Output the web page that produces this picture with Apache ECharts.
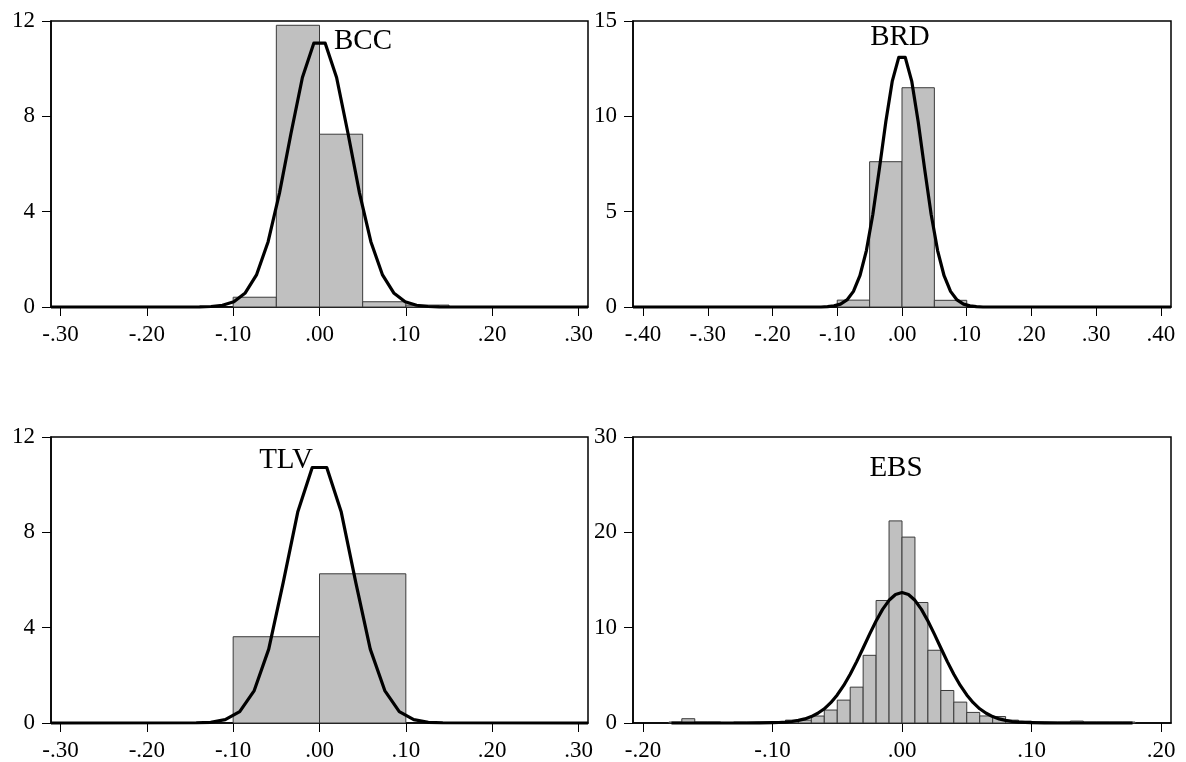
<!DOCTYPE html>
<html>
<head>
<meta charset="utf-8">
<script src="https://cdn.jsdelivr.net/npm/echarts@6/dist/echarts.min.js"></script>
<style>
html,body{margin:0;padding:0;background:#fff;}
#chart{width:1186px;height:762px;}
</style>
</head>
<body>
<div id="chart"></div>
<script>
// ---------- data ----------
const panelNames = ['BCC', 'BRD', 'TLV', 'EBS'];

// histogram bin edges and heights
const bccEdges = [-0.10, -0.05, 0.00, 0.05, 0.10, 0.15];
const bccHeights = [0.41, 11.82, 7.25, 0.22, 0.08];

const brdEdges = [-0.10, -0.05, 0.00, 0.05, 0.10];
const brdHeights = [0.36, 7.62, 11.50, 0.35];

const tlvEdges = [-0.10, 0.00, 0.10];
const tlvHeights = [3.62, 6.26];

const ebsEdges = [-0.18,-0.17,-0.16,-0.15,-0.14,-0.13,-0.12,-0.11,-0.10,-0.09,-0.08,-0.07,-0.06,-0.05,-0.04,-0.03,-0.02,-0.01,
                  0.00,0.01,0.02,0.03,0.04,0.05,0.06,0.07,0.08,0.09,0.10,0.11,0.12,0.13,0.14,0.15,0.16,0.17,0.18];
const ebsHeights = [0.1,0.45,0.1,0.1,0.0,0.1,0.1,0.1,0.1,0.3,0.3,0.73,1.36,2.40,3.76,7.10,12.85,21.2,
                    19.5,12.64,7.63,3.41,2.19,1.11,0.74,0.68,0.3,0.2,0.1,0.1,0.1,0.2,0.1,0.1,0.1,0.1];

// normal density curves
const bccCurveX = [-0.311,-0.152,-0.1389,-0.1257,-0.1124,-0.0992,-0.086,-0.0728,-0.0595,-0.0463,-0.0331,-0.0198,-0.0066,
                   0.0066,0.0198,0.0331,0.0463,0.0595,0.0728,0.086,0.0992,0.1124,0.1257,0.1389,0.152,0.311];
const bccCurveY = [0,0.001,0.005,0.021,0.073,0.222,0.589,1.36,2.74,4.79,7.27,9.63,11.07,
                   11.07,9.63,7.27,4.79,2.74,1.36,0.589,0.222,0.073,0.021,0.005,0.001,0];

const brdCurveX = [-0.4155,-0.125,-0.115,-0.105,-0.095,-0.085,-0.075,-0.065,-0.055,-0.045,-0.035,-0.025,-0.015,-0.005,
                   0.005,0.015,0.025,0.035,0.045,0.055,0.065,0.075,0.085,0.095,0.105,0.115,0.125,0.4155];
const brdCurveY = [0,0,0.02,0.06,0.15,0.37,0.82,1.64,2.96,4.86,7.23,9.72,11.85,13.09,
                   13.09,11.85,9.72,7.23,4.86,2.96,1.64,0.82,0.37,0.15,0.06,0.02,0,0];

const tlvCurveX = [-0.311,-0.1428,-0.126,-0.1092,-0.0924,-0.0756,-0.0588,-0.042,-0.0252,-0.0084,
                   0.0084,0.0252,0.042,0.0588,0.0756,0.0924,0.1092,0.126,0.1428,0.311];
const tlvCurveY = [0,0.01,0.03,0.14,0.48,1.36,3.10,5.90,8.85,10.72,
                   10.72,8.85,5.90,3.10,1.36,0.48,0.14,0.03,0.01,0];

const ebsCurveX = [-0.178,-0.12,-0.11,-0.10,-0.095,-0.09,-0.085,-0.08,-0.075,-0.07,-0.065,-0.06,-0.055,-0.05,-0.045,-0.04,-0.035,-0.03,-0.025,-0.02,-0.015,-0.01,-0.005,
                   0,0.005,0.01,0.015,0.02,0.025,0.03,0.035,0.04,0.045,0.05,0.055,0.06,0.065,0.07,0.075,0.08,0.085,0.09,0.095,0.10,0.11,0.12,0.178];
const ebsCurveY = [0,0,0.01,0.03,0.05,0.09,0.16,0.27,0.43,0.67,1.02,1.49,2.13,2.94,3.94,5.11,6.44,7.87,9.32,10.70,11.92,12.87,13.48,
                   13.69,13.48,12.87,11.92,10.70,9.32,7.87,6.44,5.11,3.94,2.94,2.13,1.49,1.02,0.67,0.43,0.27,0.16,0.09,0.05,0.03,0.01,0,0];

// axis tick values
const xTicks30 = [-0.30,-0.20,-0.10,0.00,0.10,0.20,0.30];
const xTicks40 = [-0.40,-0.30,-0.20,-0.10,0.00,0.10,0.20,0.30,0.40];
const xTicks20 = [-0.20,-0.10,0.00,0.10,0.20];
const yMaxes = [12, 15, 12, 30];
const yIntervals = [4, 5, 4, 10];
const xMins = [-0.311, -0.4155, -0.311, -0.2077];
const xMaxs = [0.311, 0.4155, 0.311, 0.2077];

// ---------- chart ----------
const FONT = '"Liberation Serif", "DejaVu Serif", serif';
const grids = [
  {left: 51, top: 21, width: 537, height: 286},
  {left: 633, top: 21, width: 538, height: 286},
  {left: 51, top: 437, width: 537, height: 286},
  {left: 633, top: 437, width: 538, height: 286}
];
const titlePos = [[363, 41], [900, 37], [286, 460], [896, 468]];

function fmtX(v) {
  if (Math.abs(v) < 1e-9) return '.00';
  const s = Math.abs(v).toFixed(2).replace(/^0/, '');
  return (v < 0 ? '-' : '') + s;
}

function bins(edges, heights) {
  return heights.map((h, i) => [edges[i], edges[i + 1], h]);
}
function pairs(xs, ys) { return xs.map((x, i) => [x, ys[i]]); }

const histData = [bins(bccEdges, bccHeights), bins(brdEdges, brdHeights), bins(tlvEdges, tlvHeights), bins(ebsEdges, ebsHeights)];
const curveData = [pairs(bccCurveX, bccCurveY), pairs(brdCurveX, brdCurveY), pairs(tlvCurveX, tlvCurveY), pairs(ebsCurveX, ebsCurveY)];
const xTickSets = [xTicks30, xTicks40, xTicks30, xTicks20];

const option = {
  animation: false,
  backgroundColor: '#fff',
  grid: grids.map(g => Object.assign({show: true, borderColor: '#000', borderWidth: 1.5, backgroundColor: 'transparent'}, g)),
  xAxis: grids.map((g, i) => ({
    type: 'value', gridIndex: i, min: xMins[i], max: xMaxs[i],
    axisLine: {show: true, onZero: false, lineStyle: {color: '#000', width: 1.5}},
    axisTick: {show: true, inside: false, length: 9, customValues: xTickSets[i], lineStyle: {color: '#000', width: 1}},
    axisLabel: {show: true, customValues: xTickSets[i], formatter: fmtX, margin: 16, fontSize: 23, color: '#000', fontFamily: FONT},
    splitLine: {show: false}
  })),
  yAxis: grids.map((g, i) => ({
    type: 'value', gridIndex: i, min: 0, max: yMaxes[i], interval: yIntervals[i],
    axisLine: {show: true, onZero: false, lineStyle: {color: '#000', width: 1.5}},
    axisTick: {show: true, inside: false, length: 9, lineStyle: {color: '#000', width: 1}},
    axisLabel: {show: true, margin: 16, fontSize: 23, color: '#000', fontFamily: FONT},
    splitLine: {show: false}
  })),
  series: [].concat(
    histData.map((d, i) => ({
      type: 'custom', xAxisIndex: i, yAxisIndex: i, data: d, z: 2,
      encode: {x: [0, 1], y: 2},
      renderItem: function (params, api) {
        const p0 = api.coord([api.value(0), 0]);
        const p1 = api.coord([api.value(1), api.value(2)]);
        return {
          type: 'rect',
          shape: {x: p0[0], y: p1[1], width: p1[0] - p0[0], height: p0[1] - p1[1]},
          style: {fill: '#c0c0c0', stroke: '#3a3a3a', lineWidth: 1}
        };
      }
    })),
    curveData.map((d, i) => ({
      type: 'line', xAxisIndex: i, yAxisIndex: i, data: d, z: 5,
      showSymbol: false, symbol: 'none', clip: false,
      lineStyle: {color: '#000', width: 3.2, join: 'round'}
    }))
  ),
  graphic: panelNames.map((name, i) => ({
    type: 'text', x: titlePos[i][0], y: titlePos[i][1], z: 10,
    style: {text: name, fontSize: 29, fontFamily: FONT, fill: '#000',
            align: 'center', verticalAlign: 'middle', textAlign: 'center', textVerticalAlign: 'middle'}
  }))
};

const chart = echarts.init(document.getElementById('chart'), null, {renderer: 'canvas'});
chart.setOption(option);
</script>
</body>
</html>
